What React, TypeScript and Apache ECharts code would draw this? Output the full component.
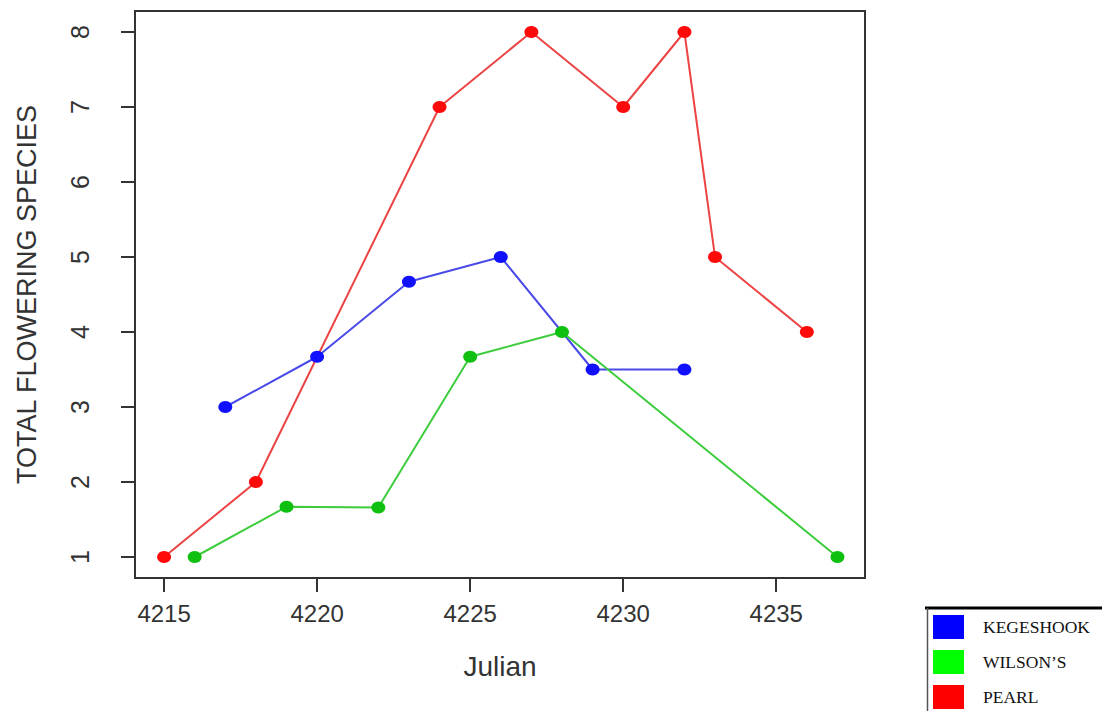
import React, { useEffect, useRef } from "react";
import * as echarts from "echarts";

const pearlX = [4215, 4218, 4224, 4227, 4230, 4232, 4233, 4236];
const pearlY = [1, 2, 7, 8, 7, 8, 5, 4];
const kegeshookX = [4217, 4220, 4223, 4226, 4229, 4232];
const kegeshookY = [3, 3.67, 4.67, 5, 3.5, 3.5];
const wilsonsX = [4216, 4219, 4222, 4225, 4228, 4237];
const wilsonsY = [1, 1.67, 1.66, 3.67, 4, 1];
const xTicks = [4215, 4220, 4225, 4230, 4235];
const yTicks = [1, 2, 3, 4, 5, 6, 7, 8];

const zip = (xs: number[], ys: number[]) => xs.map((x, i) => [x, ys[i]]);

export default function App() {
  const ref = useRef<HTMLDivElement>(null);
  useEffect(() => {
    document.body.style.margin = "0";
    const chart = echarts.init(ref.current!, null, { renderer: "svg" });
    const sans = "'Liberation Sans', Arial, sans-serif";
    const mk = (name: string, xs: number[], ys: number[], line: string, dot: string) => ({
      name,
      type: "line",
      data: zip(xs, ys),
      symbol: "circle",
      symbolSize: [14, 12],
      showSymbol: true,
      lineStyle: { color: line, width: 2 },
      itemStyle: { color: dot },
      z: 3,
    });
    chart.setOption({
      animation: false,
      backgroundColor: "#ffffff",
      grid: {
        left: 135,
        right: 237,
        top: 11,
        bottom: 133,
        show: true,
        borderColor: "#333",
        borderWidth: 2,
        backgroundColor: "transparent",
      },
      xAxis: {
        type: "value",
        min: 4214.05,
        max: 4237.9,
        name: "Julian",
        nameLocation: "middle",
        nameGap: 74,
        nameTextStyle: { fontFamily: sans, fontSize: 28, color: "#333" },
        axisLine: { show: true, onZero: false, lineStyle: { color: "#333", width: 2 } },
        axisTick: { show: true, length: 14, customValues: xTicks, lineStyle: { color: "#333", width: 2 } },
        axisLabel: {
          customValues: xTicks,
          formatter: (v: number) => String(v),
          margin: 23,
          fontFamily: sans,
          fontSize: 24,
          color: "#333",
        },
        splitLine: { show: false },
      },
      yAxis: {
        type: "value",
        min: 0.72,
        max: 8.28,
        name: "TOTAL FLOWERING SPECIES",
        nameLocation: "middle",
        nameGap: 95,
        nameRotate: 90,
        nameTextStyle: { fontFamily: sans, fontSize: 27, color: "#333" },
        axisLine: { show: true, onZero: false, lineStyle: { color: "#333", width: 2 } },
        axisTick: { show: true, length: 14, customValues: yTicks, lineStyle: { color: "#333", width: 2 } },
        axisLabel: {
          customValues: yTicks,
          formatter: (v: number) => String(v),
          rotate: 90,
          margin: 43,
          fontFamily: sans,
          fontSize: 25,
          color: "#333",
        },
        splitLine: { show: false },
      },
      legend: {
        type: "plain",
        orient: "vertical",
        left: 933,
        top: 615,
        padding: 0,
        icon: "rect",
        itemWidth: 31,
        itemHeight: 24,
        itemGap: 11,
        data: [
          { name: "KEGESHOOK", itemStyle: { color: "#0000ff" } },
          { name: "WILSON\u2019S", itemStyle: { color: "#00ff00" } },
          { name: "PEARL", itemStyle: { color: "#ff0000" } },
        ],
        itemStyle: { borderWidth: 0 },
        textStyle: {
          fontFamily: "'Liberation Serif', 'Times New Roman', serif",
          fontSize: 17.5,
          color: "#111",
          padding: [3, 0, 0, 14],
        },
      },
      graphic: [
        { type: "line", shape: { x1: 925, y1: 608, x2: 1102, y2: 608 }, style: { stroke: "#000", lineWidth: 3 } },
        { type: "line", shape: { x1: 927.5, y1: 608, x2: 927.5, y2: 711 }, style: { stroke: "#555", lineWidth: 1.5 } },
      ],
      series: [
        mk("KEGESHOOK", kegeshookX, kegeshookY, "#4a4ae8", "#1010ff"),
        mk("WILSON\u2019S", wilsonsX, wilsonsY, "#3ccc3c", "#10c010"),
        mk("PEARL", pearlX, pearlY, "#ec4444", "#ff0a0a"),
      ],
    });
    return () => chart.dispose();
  }, []);
  return <div ref={ref} style={{ width: 1102, height: 711 }} />;
}
